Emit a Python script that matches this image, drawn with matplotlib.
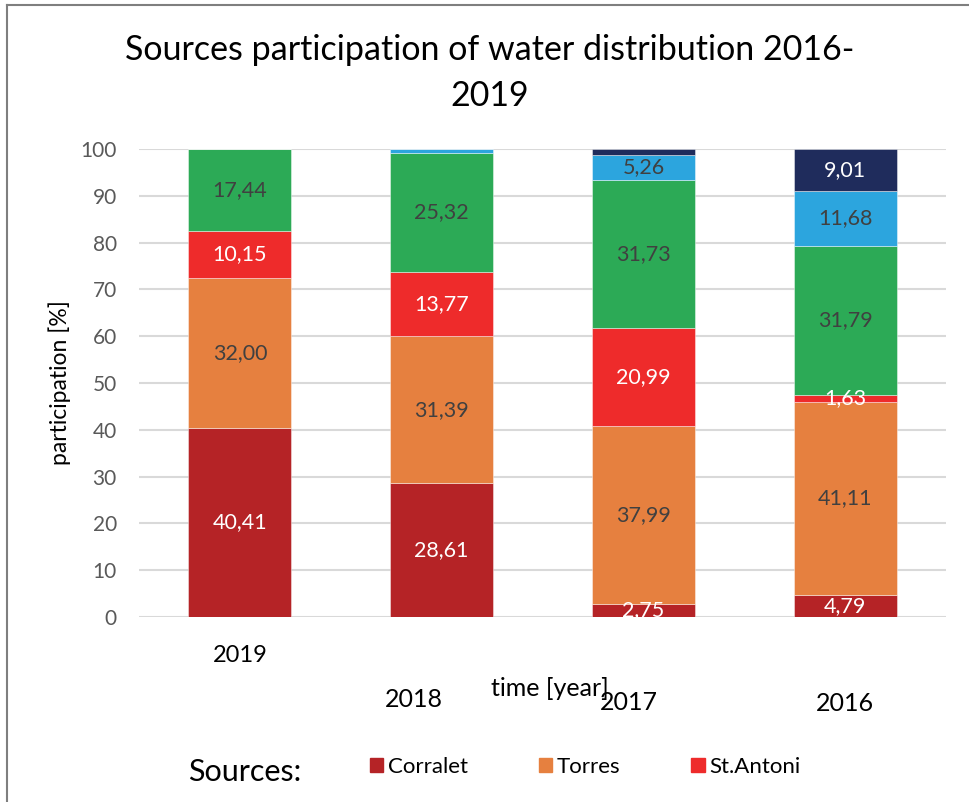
import matplotlib
matplotlib.use("Agg")
import matplotlib.pyplot as plt
from matplotlib.lines import Line2D
from matplotlib.patches import Patch

plt.rcParams["font.family"] = ["Lato", "DejaVu Sans"]

years = ["2019", "2018", "2017", "2016"]
sources = ["Corralet", "Torres", "St.Antoni", "Source 4", "Source 5", "Source 6"]
corralet = [40.41, 28.61, 2.75, 4.79]
torres = [32.00, 31.39, 37.99, 41.11]
st_antoni = [10.15, 13.77, 20.99, 1.63]
source4 = [17.44, 25.32, 31.73, 31.79]
source5 = [0.00, 0.91, 5.26, 11.68]
source6 = [0.00, 0.00, 1.28, 9.01]
series = [corralet, torres, st_antoni, source4, source5, source6]

colors = ["#B52326", "#E6803F", "#EE2B2B", "#2CAA56", "#2CA5DE", "#1F2C5C"]
label_colors = ["white", "#404040", "white", "#404040", "#404040", "white"]

fig = plt.figure(figsize=(9.69, 8.02), dpi=100)
ax = fig.add_axes([139 / 969, 1 - 617 / 802, (946 - 139) / 969, (617 - 149) / 802])

x = list(range(len(years)))
bottom = [0.0] * len(years)
for name, vals, c, lc in zip(sources, series, colors, label_colors):
    ax.bar(x, vals, width=0.51, bottom=bottom, color=c,
           edgecolor=(1, 1, 1, 0.5), linewidth=0.6, label=name, zorder=3)
    for i, v in enumerate(vals):
        if v >= 1.5:
            ax.text(i, bottom[i] + v / 2, f"{v:.2f}".replace(".", ","),
                    ha="center", va="center", color=lc, fontsize=15.5, zorder=4)
    bottom = [b + v for b, v in zip(bottom, vals)]

ax.set_xlim(-0.5, 3.5)
ax.set_ylim(0, 100)
ax.set_yticks(range(0, 101, 10))
ax.tick_params(axis="y", length=0, pad=16, labelsize=15, labelcolor="#595959")
ax.set_xticks([])
ax.grid(axis="y", color="#D9D9D9", linewidth=1.5, zorder=0)
for s in ax.spines.values():
    s.set_visible(False)

# year labels are staggered like in the original
label_dx = [0, -0.14, -0.07, 0]
label_y = [-0.082, -0.176, -0.182, -0.184]
label_size = [17, 18, 18, 18]
for i, (yr, dx, yy, fs) in enumerate(zip(years, label_dx, label_y, label_size)):
    ax.text(i + dx, yy, yr, transform=ax.get_xaxis_transform(),
            ha="center", va="center", fontsize=fs, color="black")

fig.text(550 / 969, 1 - 688 / 802, "time [year]", ha="center", va="center",
         fontsize=18)
fig.text(60 / 969, 1 - 383 / 802, "participation [%]", rotation=90,
         ha="center", va="center", fontsize=16.5)
fig.text(490 / 969, 1 - 73 / 802,
         "Sources participation of water distribution 2016-\n2019",
         ha="center", va="center", fontsize=24.5, linespacing=1.5)

fig.text(245 / 969, 1 - 772 / 802, "Sources:", ha="center", va="center",
         fontsize=22)
leg_handles = [Patch(color=c) for c in colors[:3]]
fig.legend(leg_handles, sources[:3], loc="center left",
           bbox_to_anchor=(350 / 969, 1 - 767 / 802), ncol=3, frameon=False,
           fontsize=16, handlelength=0.6, handleheight=0.6, handletextpad=0.2,
           columnspacing=3.2)

# outer frame (only top and left edges are visible in the original)
fig.add_artist(Line2D([7 / 969, 7 / 969], [0, 1 - 5 / 802], color="#7F7F7F",
                      linewidth=1.5, transform=fig.transFigure))
fig.add_artist(Line2D([7 / 969, 1], [1 - 5 / 802, 1 - 5 / 802], color="#7F7F7F",
                      linewidth=1.5, transform=fig.transFigure))

fig.savefig("out.png", dpi=100)
